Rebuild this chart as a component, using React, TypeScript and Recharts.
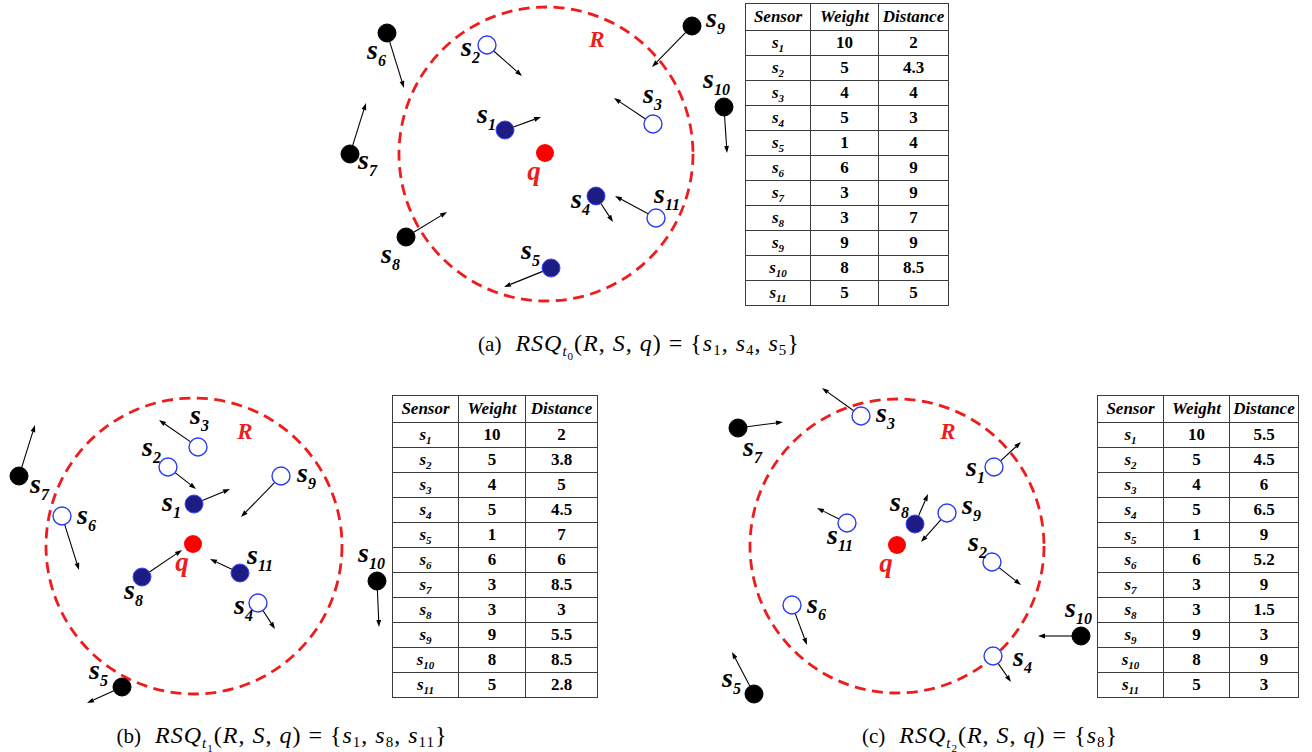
import React from "react";
import { ScatterChart, Scatter, XAxis, YAxis, ReferenceDot, ReferenceLine } from "recharts";

const W = 1312;
const H = 752;

type Kind = "in" | "cand" | "out";
interface Sensor {
  id: number;
  x: number;
  y: number;
  tx: number; // arrow tip
  ty: number;
  kind: Kind;
}

// positions (page pixels)
const sensorsT0: Sensor[] = [
  { id: 1, x: 505, y: 130, tx: 541, ty: 117, kind: "in" },
  { id: 2, x: 487, y: 45, tx: 522, ty: 76, kind: "cand" },
  { id: 3, x: 653, y: 124, tx: 614, ty: 98, kind: "cand" },
  { id: 4, x: 596, y: 196, tx: 613, ty: 222, kind: "in" },
  { id: 5, x: 551, y: 268, tx: 504, ty: 287, kind: "in" },
  { id: 6, x: 387, y: 33, tx: 404, ty: 88, kind: "out" },
  { id: 7, x: 350, y: 154, tx: 366, ty: 103, kind: "out" },
  { id: 8, x: 406, y: 237, tx: 447, ty: 212, kind: "out" },
  { id: 9, x: 692, y: 26, tx: 652, ty: 67, kind: "out" },
  { id: 10, x: 724, y: 107, tx: 727, ty: 153, kind: "out" },
  { id: 11, x: 656, y: 218, tx: 615, ty: 196, kind: "cand" },
];

const sensorsT1: Sensor[] = [
  { id: 1, x: 194, y: 504, tx: 230, ty: 489, kind: "in" },
  { id: 2, x: 168, y: 467, tx: 196, ty: 489, kind: "cand" },
  { id: 3, x: 198, y: 447, tx: 159, ty: 420, kind: "cand" },
  { id: 4, x: 258, y: 603, tx: 275, ty: 629, kind: "cand" },
  { id: 5, x: 122, y: 687, tx: 87, ty: 703, kind: "out" },
  { id: 6, x: 62, y: 516, tx: 79, ty: 570, kind: "cand" },
  { id: 7, x: 19, y: 476, tx: 35, ty: 425, kind: "out" },
  { id: 8, x: 142, y: 577, tx: 182, ty: 550, kind: "in" },
  { id: 9, x: 281, y: 476, tx: 241, ty: 517, kind: "cand" },
  { id: 10, x: 377, y: 581, tx: 379, ty: 627, kind: "out" },
  { id: 11, x: 240, y: 573, tx: 210, ty: 559, kind: "in" },
];

const sensorsT2: Sensor[] = [
  { id: 1, x: 994, y: 467, tx: 1021, ty: 442, kind: "cand" },
  { id: 2, x: 992, y: 562, tx: 1021, ty: 585, kind: "cand" },
  { id: 3, x: 861, y: 416, tx: 822, ty: 388, kind: "cand" },
  { id: 4, x: 993, y: 656, tx: 1011, ty: 682, kind: "cand" },
  { id: 5, x: 754, y: 694, tx: 732, ty: 652, kind: "out" },
  { id: 6, x: 792, y: 605, tx: 807, ty: 645, kind: "cand" },
  { id: 7, x: 738, y: 428, tx: 783, ty: 422, kind: "out" },
  { id: 8, x: 915, y: 524, tx: 928, ty: 494, kind: "in" },
  { id: 9, x: 947, y: 513, tx: 921, ty: 542, kind: "cand" },
  { id: 10, x: 1081, y: 636, tx: 1038, ty: 636, kind: "out" },
  { id: 11, x: 847, y: 523, tx: 817, ty: 508, kind: "cand" },
];

// query region R (centre = q) and query point
const regionT0 = { x: 546, y: 154, r: 147 };
const regionT1 = { x: 194, y: 546, r: 148 };
const regionT2 = { x: 897, y: 546, r: 147 };
const queryT0 = { x: 545, y: 153 };
const queryT1 = { x: 193, y: 544 };
const queryT2 = { x: 897, y: 545 };

// table columns
const weights = [10, 5, 4, 5, 1, 6, 3, 3, 9, 8, 5];
const distanceT0 = ["2", "4.3", "4", "3", "4", "9", "9", "7", "9", "8.5", "5"];
const distanceT1 = ["2", "3.8", "5", "4.5", "7", "6", "8.5", "3", "5.5", "8.5", "2.8"];
const distanceT2 = ["5.5", "4.5", "6", "6.5", "9", "5.2", "9", "1.5", "3", "9", "3"];

// result sets shown in the captions
const resultT0 = [1, 4, 5];
const resultT1 = [1, 8, 11];
const resultT2 = [8];

// label placement (offset of the "s" from its dot) — layout only
const labelOffT0 = [[-22, -13], [-20, 5], [-4, -27], [-19, 6], [-24, -15], [-14, 20], [14, 9], [-19, 20], [20, -5], [-15, -25], [4, -21]];
const labelOffT1 = [[-26, 1], [-20, -17], [-2, -29], [-18, 5], [-27, -14], [21, 2], [17, 11], [-12, 16], [22, 0], [-13, -25], [13, -15]];
const labelOffT2 = [[-22, 3], [-18, -17], [21, 0], [26, 4], [-26, -13], [21, 2], [11, 22], [-19, -19], [21, -5], [-10, -25], [-14, 15]];

const serif = "'Liberation Serif', 'Times New Roman', Times, 'DejaVu Serif', serif";
const RED = "#ee1c1c";
const DOT_R = 9;

const kindStyle: Record<Kind, any> = {
  in: { fill: "#1c1c82", stroke: "#3a46ff", strokeWidth: 1 },
  cand: { fill: "#fff", stroke: "#2b3cf5", strokeWidth: 1.4 },
  out: { fill: "#000", stroke: "#000", strokeWidth: 1 },
};

const ArrowLine = (p: any) => {
  const { x1, y1, x2, y2 } = p;
  const dx = x2 - x1;
  const dy = y2 - y1;
  const len = Math.hypot(dx, dy) || 1;
  const ux = dx / len;
  const uy = dy / len;
  const sx = x1 + ux * DOT_R;
  const sy = y1 + uy * DOT_R;
  const hl = 7;
  const hw = 2.4;
  const bx = x2 - ux * hl;
  const by = y2 - uy * hl;
  return (
    <g>
      <line x1={sx} y1={sy} x2={bx} y2={by} stroke="#000" strokeWidth={1.1} />
      <polygon
        points={`${x2},${y2} ${bx - uy * hw},${by + ux * hw} ${bx + uy * hw},${by - ux * hw}`}
        fill="#000"
      />
    </g>
  );
};

const makeSensorShape = (offsets: number[][]) => (p: any) => {
  const { cx, cy, payload } = p;
  const [dx, dy] = offsets[payload.id - 1];
  return (
    <g>
      <circle cx={cx} cy={cy} r={DOT_R} {...kindStyle[payload.kind as Kind]} />
      <text
        x={cx + dx - 6}
        y={cy + dy + 6}
        style={{ fontFamily: serif, fontWeight: "bold", fontStyle: "italic", fontSize: 28 }}
        fill="#000"
      >
        s
        <tspan style={{ fontSize: 16 }} dy={7} dx={0}>
          {payload.id}
        </tspan>
      </text>
    </g>
  );
};

const RegionShape = (p: any) => (
  <g>
    <circle cx={p.cx} cy={p.cy} r={p.r} fill="none" stroke={RED} strokeWidth={2.8} strokeDasharray="11 6.5" />
    <text
      x={p.cx + 51}
      y={p.cy - 107}
      textAnchor="middle"
      style={{ fontFamily: serif, fontWeight: "bold", fontStyle: "italic", fontSize: 23 }}
      fill={RED}
    >
      R
    </text>
  </g>
);

const QueryShape = (p: any) => (
  <g>
    <circle cx={p.cx} cy={p.cy} r={p.r} fill="#ff0000" />
    <text
      x={p.cx - 11}
      y={p.cy + 27}
      textAnchor="middle"
      style={{ fontFamily: serif, fontWeight: "bold", fontStyle: "italic", fontSize: 27 }}
      fill={RED}
    >
      q
    </text>
  </g>
);

const panels = [
  { sensors: sensorsT0, region: regionT0, query: queryT0, offs: labelOffT0 },
  { sensors: sensorsT1, region: regionT1, query: queryT1, offs: labelOffT1 },
  { sensors: sensorsT2, region: regionT2, query: queryT2, offs: labelOffT2 },
];

const cellBorder = "1.5px solid #3c3c3c";

const SensorTable = ({ left, top, cols, dist }: { left: number; top: number; cols: number[]; dist: string[] }) => {
  const td: React.CSSProperties = {
    border: cellBorder,
    padding: 0,
    textAlign: "center",
    fontWeight: "bold",
    height: 25,
    lineHeight: "18px",
    boxSizing: "border-box",
  };
  return (
    <table
      style={{
        position: "absolute",
        left,
        top,
        borderCollapse: "collapse",
        tableLayout: "fixed",
        width: cols[0] + cols[1] + cols[2],
        fontFamily: serif,
        fontSize: 17,
      }}
    >
      <colgroup>
        {cols.map((w, i) => (
          <col key={i} style={{ width: w }} />
        ))}
      </colgroup>
      <tbody>
        <tr>
          {["Sensor", "Weight", "Distance"].map((h) => (
            <td key={h} style={{ ...td, height: 27, fontStyle: "italic" }}>
              {h}
            </td>
          ))}
        </tr>
        {weights.map((w, i) => (
          <tr key={i}>
            <td style={{ ...td, fontStyle: "italic" }}>
              s<sub style={{ fontSize: 11, verticalAlign: "-4px", lineHeight: 0 }}>{i + 1}</sub>
            </td>
            <td style={td}>{w}</td>
            <td style={td}>{dist[i]}</td>
          </tr>
        ))}
      </tbody>
    </table>
  );
};

const mathSub: React.CSSProperties = { fontSize: 15, lineHeight: 0, fontStyle: "normal" };

const Caption = ({ center, top, tag, t, set }: { center: number; top: number; tag: string; t: number; set: number[] }) => (
  <div
    style={{
      position: "absolute",
      left: center,
      top,
      transform: "translateX(-50%)",
      fontFamily: serif,
      fontSize: 24,
      letterSpacing: 1,
      whiteSpace: "nowrap",
      lineHeight: "24px",
    }}
  >
    <span style={{ fontSize: 21, letterSpacing: 0 }}>({tag})</span>&nbsp;&nbsp;<i>RSQ</i>
    <sub style={{ ...mathSub, verticalAlign: "-5px" }}>
      <i>t</i>
      <sub style={{ fontSize: 11, lineHeight: 0 }}>{t}</sub>
    </sub>
    (<i>R</i>,&nbsp;<i>S</i>,&nbsp;<i>q</i>)&nbsp;=&nbsp;{"{"}
    {set.map((s, i) => (
      <span key={s}>
        <i>s</i>
        <sub style={{ ...mathSub, verticalAlign: "-4px" }}>{s}</sub>
        {i < set.length - 1 ? ",\u00a0" : ""}
      </span>
    ))}
    {"}"}
  </div>
);

export default function App() {
  return (
    <div style={{ position: "absolute", left: 0, top: 0, width: W, height: H, background: "#fff", fontFamily: serif }}>
      <ScatterChart width={W} height={H} margin={{ top: 0, right: 0, bottom: 0, left: 0 }}>
        <XAxis type="number" dataKey="x" domain={[0, W]} hide />
        <YAxis type="number" dataKey="y" domain={[0, H]} reversed hide />
        {panels.map((pn, k) => (
          <ReferenceDot key={`reg${k}`} x={pn.region.x} y={pn.region.y} r={pn.region.r} shape={RegionShape} />
        ))}
        {panels.map((pn) =>
          pn.sensors.map((s) => (
            <ReferenceLine
              key={`arr${pn.region.x}-${s.id}`}
              segment={[
                { x: s.x, y: s.y },
                { x: s.tx, y: s.ty },
              ]}
              shape={ArrowLine}
            />
          ))
        )}
        {panels.map((pn, k) => (
          <ReferenceDot key={`q${k}`} x={pn.query.x} y={pn.query.y} r={DOT_R} shape={QueryShape} />
        ))}
        {panels.map((pn, k) => (
          <Scatter
            key={`s${k}`}
            name={`t${k}`}
            data={pn.sensors}
            shape={makeSensorShape(pn.offs)}
            isAnimationActive={false}
          />
        ))}
      </ScatterChart>
      <SensorTable left={745} top={3} cols={[65, 68, 70]} dist={distanceT0} />
      <SensorTable left={392} top={395} cols={[66, 67, 72]} dist={distanceT1} />
      <SensorTable left={1097} top={395} cols={[66, 66, 69]} dist={distanceT2} />
      <Caption center={639} top={331} tag="a" t={0} set={resultT0} />
      <Caption center={282} top={723} tag="b" t={1} set={resultT1} />
      <Caption center={990} top={723} tag="c" t={2} set={resultT2} />
    </div>
  );
}
